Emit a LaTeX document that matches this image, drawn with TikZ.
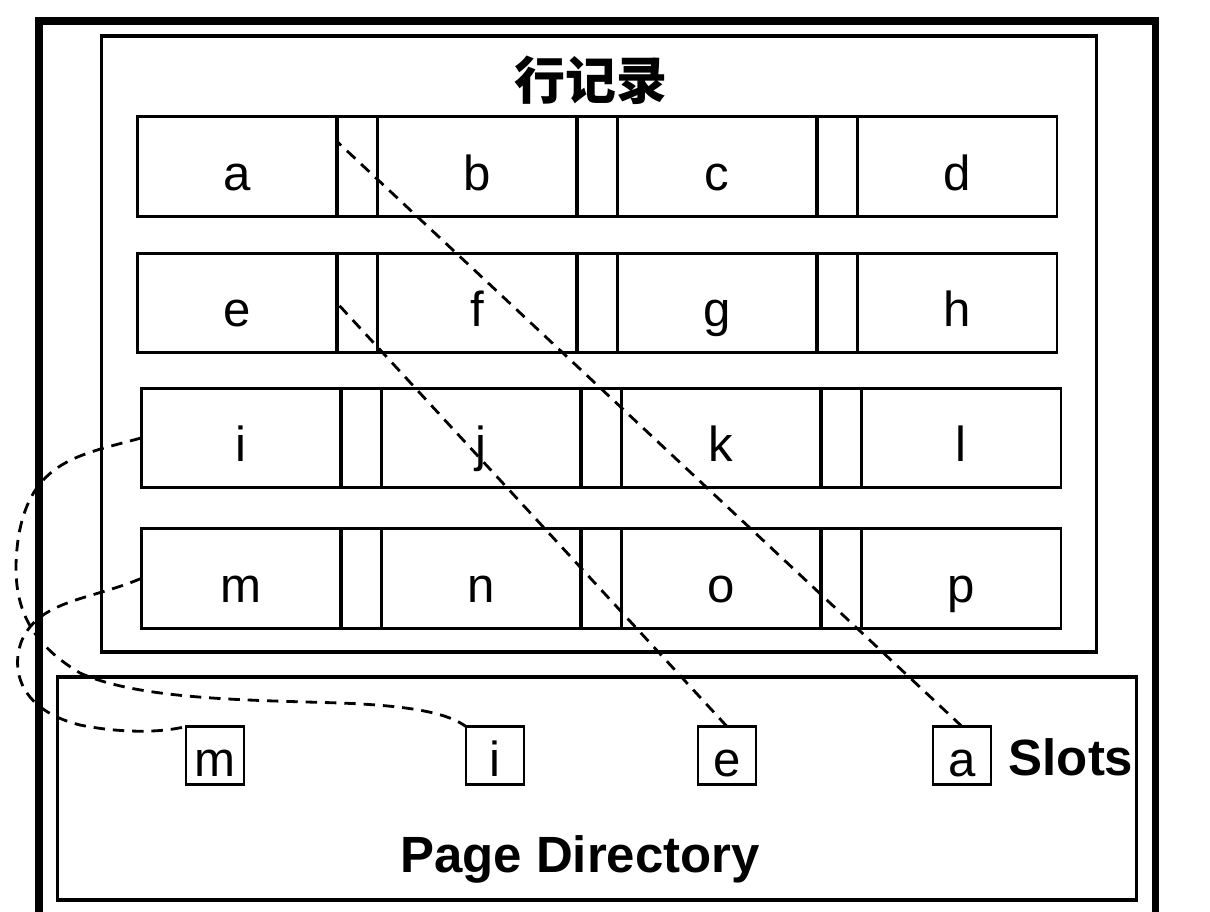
\documentclass[tikz,border=0pt]{standalone}
\usepackage{fontspec}
\setmainfont{Liberation Sans}
\newfontfamily\cjk{Noto Sans CJK SC}

\begin{document}
\begin{tikzpicture}[x=0.02cm, y=-0.02cm]
\tikzstyle{cell} = [draw, line width=1.7pt, minimum width=4cm, minimum height=2cm, inner sep=0pt, outer sep=0pt, font=\fontsize{28}{28}\selectfont, text height=27pt, text depth=0pt]
\tikzstyle{gap} = [draw, line width=1.7pt, minimum width=0.8cm, minimum height=2cm, inner sep=0pt, outer sep=0pt]
\tikzstyle{slot} = [draw, line width=1.6pt, minimum size=1.16cm, inner sep=0pt, outer sep=0pt, font=\fontsize{28}{28}\selectfont, text height=24pt, text depth=0pt]
\tikzstyle{frame} = [draw, line width=1.8pt, inner sep=0pt, outer sep=0pt]
\tikzstyle{link} = [dash pattern=on 6.5pt off 4.5pt, line width=1.6pt]

\useasboundingbox (0,0) rectangle (1210,912);

% outer page
\draw [line width=4pt] (39,960) -- (39,21) -- (1155,21) -- (1155,960);

% boxes
\node [frame, minimum width=19.92cm, minimum height=12.32cm] (records) at (599,344) {};
\node [frame, minimum width=21.6cm, minimum height=4.46cm] (pagedir) at (597,788.5) {};
\node [font=\cjk\bfseries\fontsize{29}{29}\selectfont] (title) at (591,80) {行记录};

% row 1
\node [cell] (a) at (237,166.5) {a};
\node [gap] (ab) at (357,166.5) {};
\node [cell] (b) at (477,166.5) {b};
\node [gap] (bc) at (597,166.5) {};
\node [cell] (c) at (717,166.5) {c};
\node [gap] (cd) at (837,166.5) {};
\node [cell] (d) at (957,166.5) {d};
% row 2
\node [cell] (e) at (237,303) {e};
\node [gap] (ef) at (357,303) {};
\node [cell] (f) at (477,303) {f};
\node [gap] (fg) at (597,303) {};
\node [cell] (g) at (717,303) {g};
\node [gap] (gh) at (837,303) {};
\node [cell] (h) at (957,303) {h};
% row 3
\node [cell] (i) at (241,438) {i};
\node [gap] (ij) at (361,438) {};
\node [cell] (j) at (481,438) {j};
\node [gap] (jk) at (601,438) {};
\node [cell] (k) at (721,438) {k};
\node [gap] (kl) at (841,438) {};
\node [cell] (l) at (961,438) {l};
% row 4
\node [cell] (m) at (241,578.5) {m};
\node [gap] (mn) at (361,578.5) {};
\node [cell] (n) at (481,578.5) {n};
\node [gap] (no) at (601,578.5) {};
\node [cell] (o) at (721,578.5) {o};
\node [gap] (op) at (841,578.5) {};
\node [cell] (p) at (961,578.5) {p};

% slots
\node [slot] (sm) at (215,755.5) {m};
\node [slot] (si) at (495,755.5) {i};
\node [slot] (se) at (727,755.5) {e};
\node [slot] (sa) at (962,755.5) {a};
\node [anchor=base, font=\bfseries\fontsize{29}{29}\selectfont] (slots) at (1071,775) {Slots};
\node [anchor=base, font=\bfseries\fontsize{29}{29}\selectfont] (pdlabel) at (580,872) {Page Directory};

% links
\draw [link] (sa.north) -- ([yshift=0.5cm]ab.west);
\draw [link] (se.north) -- (ef.west);
\draw [link] (i.west) .. controls (80,455) and (30,460) .. (18,540)
  .. controls (10,600) and (25,640) .. (80,673)
  .. controls (140,700) and (250,700) .. (340,703)
  .. controls (420,706) and (450,715) .. (si.north west);
\draw [link] (m.west) .. controls (90,600) and (40,600) .. (22,640)
  .. controls (10,670) and (20,710) .. (80,725)
  .. controls (120,733) and (160,733) .. (sm.north west);

\end{tikzpicture}
\end{document}
